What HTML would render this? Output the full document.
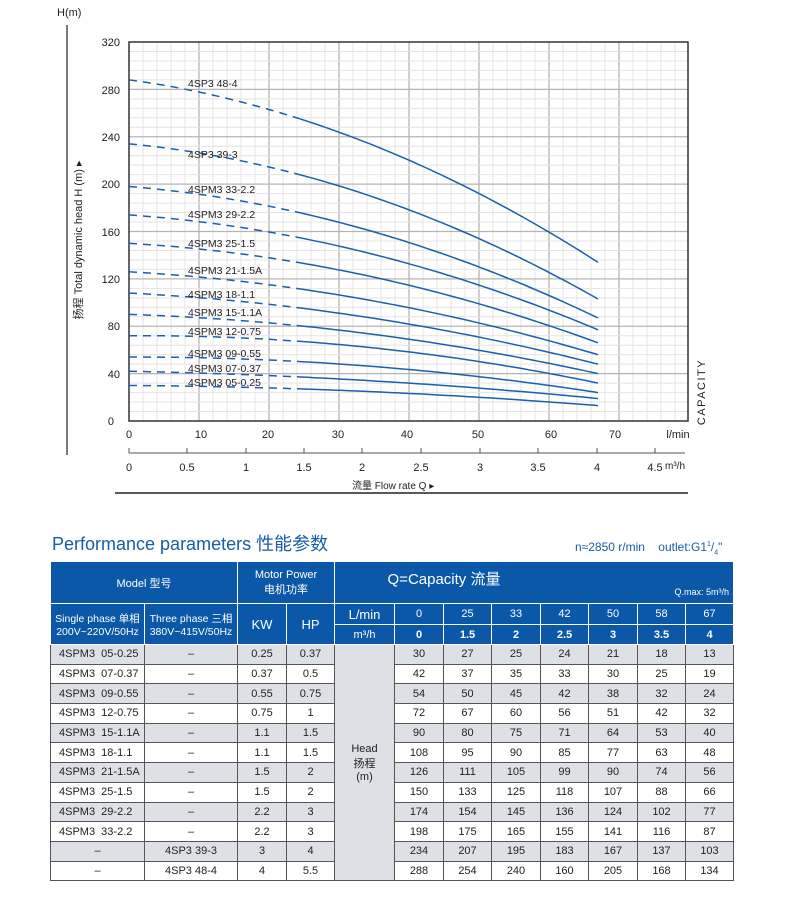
<!DOCTYPE html>
<html><head><meta charset="utf-8"><style>
body{margin:0;width:790px;height:900px;background:#fff;font-family:"Liberation Sans","Noto Sans CJK SC",sans-serif;position:relative;overflow:hidden}
svg{position:absolute;left:0;top:0}
.t{position:absolute;white-space:nowrap}
table{position:absolute;left:50px;top:561px;border-collapse:collapse;table-layout:fixed;font-size:11px;color:#222}
td{border:1px solid #555;text-align:center;padding:0;height:18.7px}
td.l{text-align:left;padding-left:8px;white-space:pre}
.h td{background:#0b58a8;color:#fff;border-color:#fff}
tr.g td{background:#dde1e5}
td.hd{background:#dde1e5 !important}
</style></head><body>
<svg width="790" height="520" id="ch" font-family="Liberation Sans, Noto Sans CJK SC, sans-serif">
<g id="grid"></g>
<rect x="129" y="42" width="559" height="379" fill="none" stroke="#333" stroke-width="1.5"/>
<g id="curves" fill="none" stroke="#1b5fae" stroke-width="1.5"></g>
<g font-size="11" fill="#222" text-anchor="end">
<text x="120" y="46">320</text><text x="120" y="94">280</text><text x="120" y="141">240</text><text x="120" y="188">200</text><text x="120" y="236">160</text><text x="120" y="283">120</text><text x="120" y="330">80</text><text x="120" y="378">40</text><text x="114" y="425">0</text>
</g>
<g font-size="11" fill="#222" text-anchor="middle">
<text x="129" y="438">0</text><text x="201" y="438">10</text><text x="268" y="438">20</text><text x="338" y="438">30</text><text x="407" y="438">40</text><text x="478" y="438">50</text><text x="551" y="438">60</text><text x="615" y="438">70</text><text x="678" y="438">l/min</text>
<text x="129" y="471">0</text><text x="187" y="471">0.5</text><text x="246" y="471">1</text><text x="304" y="471">1.5</text><text x="362" y="471">2</text><text x="421" y="471">2.5</text><text x="480" y="471">3</text><text x="538" y="471">3.5</text><text x="597" y="471">4</text><text x="655" y="471">4.5</text>
</g>
<text x="665" y="469" font-size="10" fill="#222">m³/h</text>
<g stroke="#555" stroke-width="1"><line x1="129" y1="453" x2="685" y2="453"/>
<line x1="129" y1="448" x2="129" y2="453"/><line x1="187" y1="448" x2="187" y2="453"/><line x1="246" y1="448" x2="246" y2="453"/><line x1="304" y1="448" x2="304" y2="453"/><line x1="362" y1="448" x2="362" y2="453"/><line x1="421" y1="448" x2="421" y2="453"/><line x1="480" y1="448" x2="480" y2="453"/><line x1="538" y1="448" x2="538" y2="453"/><line x1="597" y1="448" x2="597" y2="453"/><line x1="655" y1="448" x2="655" y2="453"/></g>
<text x="352" y="489" font-size="10" fill="#222">流量 Flow rate Q ▸</text>
<line x1="115" y1="493" x2="688" y2="493" stroke="#222" stroke-width="1.5"/>
<line x1="67" y1="25" x2="67" y2="455" stroke="#222" stroke-width="1.2"/>
<text x="57" y="16" font-size="11" fill="#222">H(m)</text>
<text transform="translate(82,240) rotate(-90)" font-size="11" fill="#222" text-anchor="middle">扬程 Total dynamic head H (m) ▸</text>
<text transform="translate(705,392) rotate(-90)" font-size="11" fill="#222" text-anchor="middle" letter-spacing="1.5">CAPACITY</text>
<g font-size="10.5" fill="#222">
<text x="188" y="87">4SP3  48-4</text><text x="188" y="158">4SP3  39-3</text><text x="188" y="193">4SPM3  33-2.2</text><text x="188" y="218">4SPM3  29-2.2</text><text x="188" y="247">4SPM3  25-1.5</text><text x="188" y="274">4SPM3  21-1.5A</text><text x="188" y="298">4SPM3  18-1.1</text><text x="188" y="316">4SPM3  15-1.1A</text><text x="188" y="335">4SPM3  12-0.75</text><text x="188" y="357">4SPM3  09-0.55</text><text x="188" y="372">4SPM3   07-0.37</text><text x="188" y="386">4SPM3   05-0.25</text>
</g>
</svg>
<div class="t" style="left:52px;top:530px;font-size:18px;color:#1a5ca8">Performance parameters 性能参数</div>
<div class="t" style="left:575px;top:540px;font-size:12px;color:#1a5ca8">n≈2850 r/min &nbsp;&nbsp; outlet:G1<sup style="font-size:7px">1</sup>/<sub style="font-size:7px">4</sub>"</div>
<table>
<colgroup><col style="width:94px"><col style="width:93px"><col style="width:49px"><col style="width:48px"><col style="width:60px"><col style="width:49px"><col style="width:48px"><col style="width:49px"><col style="width:48px"><col style="width:49px"><col style="width:48px"><col style="width:48px"></colgroup>
<tr class="h"><td colspan="2" style="height:41px">Model 型号</td><td colspan="2">Motor Power<br>电机功率</td><td colspan="8" style="position:relative"><span style="font-size:15px;position:relative;left:-90px;top:-4px">Q=Capacity 流量</span><span style="position:absolute;right:4px;bottom:6px;font-size:9px">Q.max: 5m³/h</span></td></tr>
<tr class="h"><td rowspan="2" style="font-size:10.5px">Single phase 单相<br>200V~220V/50Hz</td><td rowspan="2" style="font-size:10.5px">Three phase 三相<br>380V~415V/50Hz</td><td rowspan="2" style="font-size:13px">KW</td><td rowspan="2" style="font-size:13px">HP</td><td style="font-size:13px;height:20px">L/min</td><td>0</td><td>25</td><td>33</td><td>42</td><td>50</td><td>58</td><td>67</td></tr>
<tr class="h" style="font-weight:bold"><td style="font-weight:normal;height:19px">m³/h</td><td>0</td><td>1.5</td><td>2</td><td>2.5</td><td>3</td><td>3.5</td><td>4</td></tr>
<tr class="g"><td class="l">4SPM3  05-0.25</td><td>–</td><td>0.25</td><td>0.37</td><td rowspan="12" class="hd">Head<br>扬程<br>(m)</td><td>30</td><td>27</td><td>25</td><td>24</td><td>21</td><td>18</td><td>13</td></tr>
<tr><td class="l">4SPM3  07-0.37</td><td>–</td><td>0.37</td><td>0.5</td><td>42</td><td>37</td><td>35</td><td>33</td><td>30</td><td>25</td><td>19</td></tr>
<tr class="g"><td class="l">4SPM3  09-0.55</td><td>–</td><td>0.55</td><td>0.75</td><td>54</td><td>50</td><td>45</td><td>42</td><td>38</td><td>32</td><td>24</td></tr>
<tr><td class="l">4SPM3  12-0.75</td><td>–</td><td>0.75</td><td>1</td><td>72</td><td>67</td><td>60</td><td>56</td><td>51</td><td>42</td><td>32</td></tr>
<tr class="g"><td class="l">4SPM3  15-1.1A</td><td>–</td><td>1.1</td><td>1.5</td><td>90</td><td>80</td><td>75</td><td>71</td><td>64</td><td>53</td><td>40</td></tr>
<tr><td class="l">4SPM3  18-1.1</td><td>–</td><td>1.1</td><td>1.5</td><td>108</td><td>95</td><td>90</td><td>85</td><td>77</td><td>63</td><td>48</td></tr>
<tr class="g"><td class="l">4SPM3  21-1.5A</td><td>–</td><td>1.5</td><td>2</td><td>126</td><td>111</td><td>105</td><td>99</td><td>90</td><td>74</td><td>56</td></tr>
<tr><td class="l">4SPM3  25-1.5</td><td>–</td><td>1.5</td><td>2</td><td>150</td><td>133</td><td>125</td><td>118</td><td>107</td><td>88</td><td>66</td></tr>
<tr class="g"><td class="l">4SPM3  29-2.2</td><td>–</td><td>2.2</td><td>3</td><td>174</td><td>154</td><td>145</td><td>136</td><td>124</td><td>102</td><td>77</td></tr>
<tr><td class="l">4SPM3  33-2.2</td><td>–</td><td>2.2</td><td>3</td><td>198</td><td>175</td><td>165</td><td>155</td><td>141</td><td>116</td><td>87</td></tr>
<tr class="g"><td>–</td><td>4SP3  39-3</td><td>3</td><td>4</td><td>234</td><td>207</td><td>195</td><td>183</td><td>167</td><td>137</td><td>103</td></tr>
<tr><td>–</td><td>4SP3  48-4</td><td>4</td><td>5.5</td><td>288</td><td>254</td><td>240</td><td>160</td><td>205</td><td>168</td><td>134</td></tr>
</table>
<script>
(function(){
var ns="http://www.w3.org/2000/svg",g=document.getElementById("grid"),c=document.getElementById("curves");
function L(x1,y1,x2,y2,col,w,p){var l=document.createElementNS(ns,"line");l.setAttribute("x1",x1);l.setAttribute("y1",y1);l.setAttribute("x2",x2);l.setAttribute("y2",y2);l.setAttribute("stroke",col);l.setAttribute("stroke-width",w);p.appendChild(l);}
var k=379/320;
for(var i=1;i<40;i++){var x=129+i*14;if(x>=688)break;L(x,42,x,421,i%5?"#e4e4e4":"#b5b5b5",i%5?1:1.3,g);}
for(var j=1;j<40;j++){var y=421-j*8*k;if(y<=42)break;L(129,y,688,y,j%5?"#e4e4e4":"#b5b5b5",j%5?1:1.3,g);}
var D=[[30,27,13],[42,37,19],[54,50,24],[72,67,32],[90,80,40],[108,95,48],[126,111,56],[150,133,66],[174,154,77],[198,175,87],[234,207,103],[288,254,134]];
D.forEach(function(h){
 var H0=h[0],d1=H0-h[1],d2=H0-h[2];
 // H = H0 - a q - b q^2 through (25,h1) and (67,h2)
 var b=(d2-67*d1/25)/(4489-67*25),a=(d1-625*b)/25;
 if(b<0){b=0;}
 function pt(q){return (129+q*7).toFixed(1)+","+(421-(H0-a*q-b*q*q)*k).toFixed(1);}
 var s1="M"+pt(0),s2="M"+pt(24.5);
 for(var q=1;q<=24.5;q+=1)s1+=" L"+pt(q);s1+=" L"+pt(24.5);
 for(var q=25.5;q<=67;q+=1)s2+=" L"+pt(q);s2+=" L"+pt(67);
 var p=document.createElementNS(ns,"path");p.setAttribute("d",s1);p.setAttribute("stroke-dasharray","8 6");c.appendChild(p);
 var r=document.createElementNS(ns,"path");r.setAttribute("d",s2);c.appendChild(r);
});
})();
</script>
</body></html>
